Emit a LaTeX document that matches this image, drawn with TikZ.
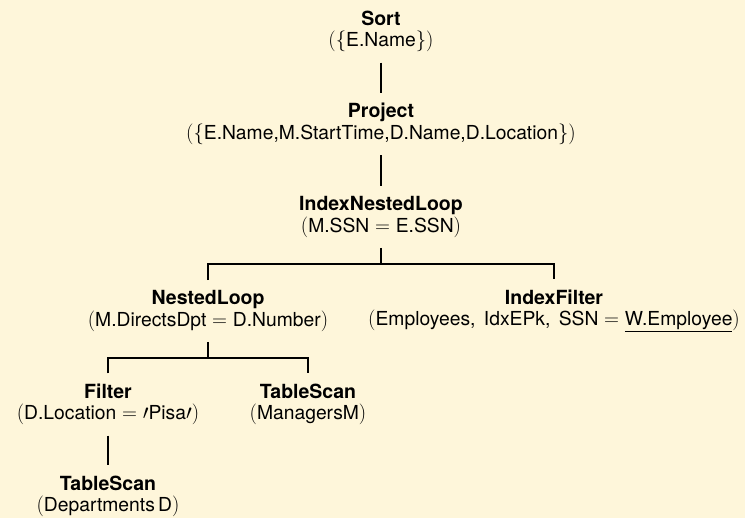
\documentclass[tikz,border=0pt]{standalone}
\usepackage{fontspec}
\setmainfont{TeX Gyre Heros}
\usetikzlibrary{calc}
\definecolor{bg}{RGB}{254,246,218}
\newcommand\ttl[1]{{\fontsize{19.5}{21.5}\selectfont\bfseries #1}}
\begin{document}
\begin{tikzpicture}[x=1pt,y=-1pt,
  op/.style={align=center,inner xsep=0pt,inner ysep=10.3pt,font=\fontsize{19.3}{21.5}\selectfont},
  link/.style={line width=1.7pt}]
\fill[bg] (0,0) rectangle (745,518);
\useasboundingbox (0,0) rectangle (745,518);
\node[op] (sort) at (381,31.5) {\ttl{Sort}\\$(\{$E.Name$\})$};
\node[op] (proj) at (381,124) {\ttl{Project}\\$(\{$E.Name,M.StartTime,D.Name,D.Location$\})$};
\node[op] (inl) at (381,217) {\ttl{IndexNestedLoop}\\$($M.SSN${}={}$E.SSN$)$};
\node[op] (nl) at (208,311) {\ttl{NestedLoop}\\$($M.DirectsDpt${}={}$D.Number$)$};
\node[op] (if) at (554,311) {\ttl{IndexFilter}\\$($Employees, \hspace{3pt}IdxEPk, \hspace{3pt}SSN${}={}$\underline{W.Employee}$)$};
\node[op] (filt) at (108,404.5) {\ttl{Filter}\\$($D.Location${}={}\prime$Pisa$\prime)$};
\node[op] (ts1) at (308,404.5) {\ttl{TableScan}\\$($ManagersM$)$};
\node[op] (ts2) at (108,496.5) {\ttl{TableScan}\\$($Departments\,D$)$};
\draw[link] (sort) -- (proj);
\draw[link] (proj) -- (inl);
\coordinate (j1) at ($(inl.south)!.5!(inl.south |- nl.north)$);
\draw[link] (inl.south) -- (j1);
\draw[link] (nl.north) |- (j1) -| (if.north);
\coordinate (j2) at ($(nl.south)!.5!(nl.south |- filt.north)$);
\draw[link] (nl.south) -- (j2);
\draw[link] (filt.north) |- (j2) -| (ts1.north);
\draw[link] (filt) -- (ts2);
\end{tikzpicture}
\end{document}
